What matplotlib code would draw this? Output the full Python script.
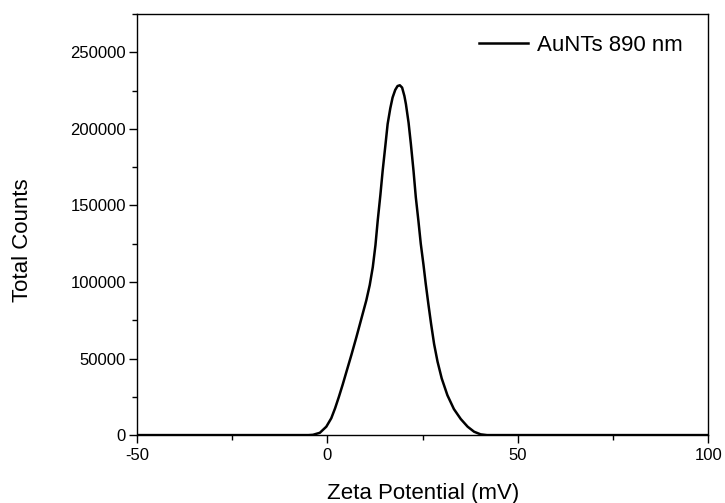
import matplotlib
matplotlib.use("Agg")
import matplotlib.pyplot as plt
from matplotlib.ticker import MultipleLocator

plt.rcParams['font.family'] = ['Liberation Sans', 'DejaVu Sans']
plt.rcParams['axes.unicode_minus'] = False

# Werte
zeta = [-50, -10, -5, -3.8, -2, -0.3, 1.0, 2.0, 3.0, 4.0, 5.0, 6.3, 7.6, 8.9,
        10.2, 11.1, 11.9, 12.6, 13.2, 13.9, 14.5, 15.2, 15.8, 16.5, 17.1, 17.8,
        18.4, 19.0, 19.6, 20.2, 20.6, 21.3, 21.9, 22.6, 23.2, 23.9, 24.5, 25.2,
        25.8, 26.5, 27.2, 28.0, 28.9, 30.0, 31.5, 33.2, 35.0, 36.8, 38.5, 40.2,
        41.9, 45, 100]
counts = [0, 0, 0, 200, 1500, 5500, 11000, 17500, 25000, 33000, 41500, 52500,
          64000, 76000, 88000, 98000, 109700, 124000, 140200, 157000, 172800,
          189000, 203200, 213500, 220500, 225500, 228000, 228500, 227000, 221500,
          216200, 204000, 190200, 172500, 155300, 139500, 125000, 111500, 98900,
          85500, 72800, 59500, 48000, 37000, 26000, 17000, 10500, 5500, 2200,
          500, 0, 0, 0]

fig = plt.figure(figsize=(7.25, 5.03), dpi=100)
ax = fig.add_axes([0.189, 0.135, 0.788, 0.837])

ax.plot(zeta, counts, color='black', lw=1.8, label='AuNTs 890 nm')

ax.set_xlim(-50, 100)
ax.set_ylim(0, 275000)
ax.xaxis.set_major_locator(MultipleLocator(50))
ax.xaxis.set_minor_locator(MultipleLocator(25))
ax.yaxis.set_major_locator(MultipleLocator(50000))
ax.yaxis.set_minor_locator(MultipleLocator(25000))
ax.tick_params(which='major', length=6, width=1, labelsize=12)
ax.tick_params(which='minor', length=3.5, width=1)
ax.tick_params(axis='y', pad=2)
for s in ax.spines.values():
    s.set_linewidth(1)

ax.set_xlabel('Zeta Potential (mV)', fontsize=16, labelpad=14)
ax.set_ylabel('Total Counts', fontsize=16)
ax.yaxis.set_label_coords(-0.182, 0.464)
ax.legend(loc='upper right', bbox_to_anchor=(0.970, 0.972), frameon=False,
          fontsize=16, handlelength=2.2, handletextpad=0.4, borderaxespad=0)

fig.savefig('out.png', dpi=100)
